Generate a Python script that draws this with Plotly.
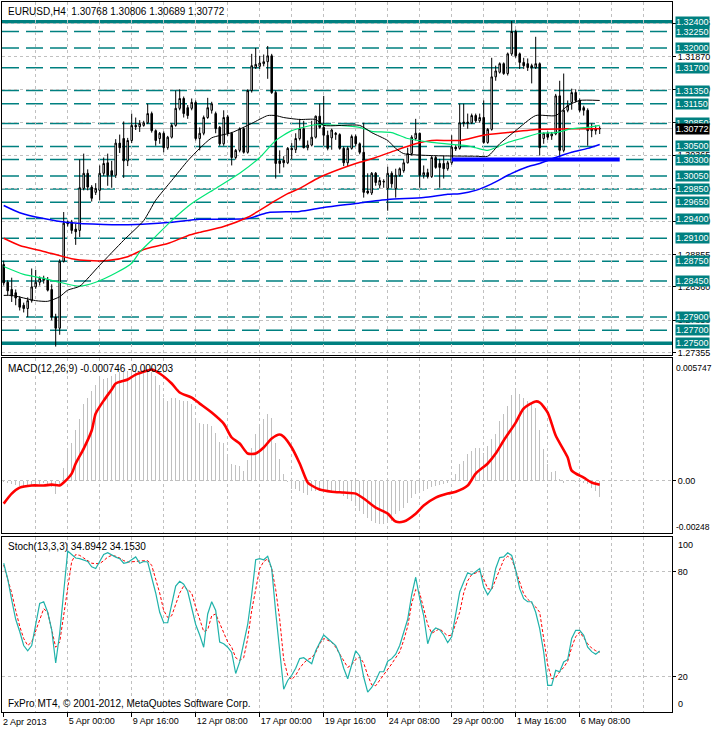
import plotly.graph_objects as go

# ---------------- data ----------------
TITLE = "EURUSD,H4  1.30768 1.30806 1.30689 1.30772"
MACD_LABEL = "MACD(12,26,9) -0.000746 -0.000203"
STOCH_LABEL = "Stoch(13,3,3) 34.8942 34.1530"
FOOTER = "FxPro MT4, © 2001-2012, MetaQuotes Software Corp."

OPEN = [1.2870, 1.2843, 1.2832, 1.2827, 1.2818, 1.2808, 1.2803, 1.2815, 1.2836, 1.2843,
        1.2846, 1.2847, 1.2832, 1.2790, 1.2773, 1.2875, 1.2935, 1.2935, 1.2924, 1.2922,
        1.2986, 1.3009, 1.2988, 1.2980, 1.2983, 1.3009, 1.3025, 1.3013, 1.3006, 1.3055,
        1.3062, 1.3028, 1.3059, 1.3082, 1.3080, 1.3082, 1.3086, 1.3100, 1.3074, 1.3062,
        1.3070, 1.3048, 1.3064, 1.3082, 1.3108, 1.3123, 1.3109, 1.3108, 1.3117, 1.3062,
        1.3070, 1.3094, 1.3105, 1.3100, 1.3079, 1.3054, 1.3095, 1.3070, 1.3033, 1.3044,
        1.3077, 1.3041, 1.3135, 1.3170, 1.3172, 1.3176, 1.3179, 1.3188, 1.3132, 1.3028,
        1.3029, 1.3025, 1.3047, 1.3045, 1.3062, 1.3077, 1.3048, 1.3052, 1.3064, 1.3096,
        1.3079, 1.3067, 1.3063, 1.3068, 1.3068, 1.3047, 1.3025, 1.3047, 1.3065, 1.3054,
        1.3041, 1.2982, 1.2979, 1.3009, 1.2991, 1.2997, 1.2986, 1.3009, 1.2986, 1.3006,
        1.3013, 1.3025, 1.3039, 1.3062, 1.3070, 1.3006, 1.3010, 1.3004, 1.3033, 1.3024,
        1.3024, 1.3016, 1.3025, 1.3049, 1.3047, 1.3085, 1.3085, 1.3086, 1.3097, 1.3089,
        1.3094, 1.3056, 1.3076, 1.3156, 1.3163, 1.3176, 1.3161, 1.3191, 1.3225, 1.3191,
        1.3178, 1.3176, 1.3173, 1.3170, 1.3176, 1.3062, 1.3070, 1.3066, 1.3069, 1.3127,
        1.3044, 1.3105, 1.3117, 1.3132, 1.3120, 1.3109, 1.3105, 1.3074, 1.3074, 1.30768]
HIGH = [1.2876, 1.2846, 1.2850, 1.2832, 1.2822, 1.2812, 1.2820, 1.2864, 1.2862, 1.2852,
        1.2853, 1.2851, 1.2840, 1.2795, 1.2878, 1.2950, 1.2937, 1.2938, 1.2932, 1.3030,
        1.3039, 1.3015, 1.2991, 1.2994, 1.3021, 1.3033, 1.3039, 1.3028, 1.3061, 1.3068,
        1.3088, 1.3063, 1.3100, 1.3094, 1.3090, 1.3089, 1.3115, 1.3103, 1.3076, 1.3072,
        1.3073, 1.3066, 1.3085, 1.3135, 1.3137, 1.3126, 1.3113, 1.3123, 1.3120, 1.3079,
        1.3097, 1.3124, 1.3118, 1.3103, 1.3081, 1.3105, 1.3098, 1.3072, 1.3046, 1.3079,
        1.3079, 1.3137, 1.3191, 1.3200, 1.3188, 1.3190, 1.3203, 1.3191, 1.3135, 1.3044,
        1.3035, 1.3049, 1.3055, 1.3070, 1.3092, 1.3089, 1.3059, 1.3089, 1.3097, 1.3115,
        1.3127, 1.3074, 1.3077, 1.3072, 1.3070, 1.3050, 1.3050, 1.3068, 1.3068, 1.3056,
        1.3086, 1.3009, 1.3011, 1.3011, 1.3003, 1.3000, 1.3019, 1.3012, 1.3016, 1.3018,
        1.3031, 1.3048, 1.3067, 1.3092, 1.3071, 1.3021, 1.3016, 1.3036, 1.3036, 1.3031,
        1.3036, 1.3028, 1.3067, 1.3052, 1.3115, 1.3115, 1.3100, 1.3100, 1.3100, 1.3100,
        1.3120, 1.3078, 1.3185, 1.3173, 1.3178, 1.3178, 1.3193, 1.3241, 1.3228, 1.3193,
        1.3185, 1.3184, 1.3176, 1.3217, 1.3178, 1.3071, 1.3073, 1.3072, 1.3130, 1.3150,
        1.3161, 1.3120, 1.3138, 1.3137, 1.3123, 1.3112, 1.3108, 1.3085, 1.3082, 1.30806]
LOW = [1.2838, 1.2823, 1.2813, 1.2808, 1.2800, 1.2797, 1.2790, 1.2812, 1.2833, 1.2838,
       1.2841, 1.2829, 1.2785, 1.2745, 1.2763, 1.2873, 1.2928, 1.2917, 1.2900, 1.2912,
       1.2983, 1.2983, 1.2966, 1.2976, 1.2968, 1.3005, 1.2990, 1.2987, 1.3002, 1.3040,
       1.3002, 1.3020, 1.3055, 1.3075, 1.3072, 1.3080, 1.3084, 1.3071, 1.3051, 1.3054,
       1.3041, 1.3045, 1.3062, 1.3080, 1.3105, 1.3094, 1.3092, 1.3105, 1.3059, 1.3044,
       1.3067, 1.3092, 1.3100, 1.3070, 1.3051, 1.3051, 1.3066, 1.3021, 1.3030, 1.3041,
       1.3039, 1.3039, 1.3132, 1.3168, 1.3168, 1.3172, 1.3153, 1.3130, 1.3001, 1.3009,
       1.3018, 1.3023, 1.3030, 1.3040, 1.3059, 1.3047, 1.3044, 1.3050, 1.3062, 1.3077,
       1.3051, 1.3044, 1.3045, 1.3060, 1.3045, 1.3020, 1.3020, 1.3045, 1.3050, 1.3038,
       1.2972, 1.2977, 1.2976, 1.2990, 1.2986, 1.2987, 1.2952, 1.2987, 1.2972, 1.3004,
       1.3010, 1.3024, 1.3036, 1.3059, 1.2987, 1.3001, 1.3001, 1.3002, 1.3016, 1.2987,
       1.3001, 1.3013, 1.3022, 1.3043, 1.3045, 1.3080, 1.3077, 1.3084, 1.3086, 1.3086,
       1.3054, 1.3054, 1.3074, 1.3150, 1.3161, 1.3159, 1.3158, 1.3188, 1.3185, 1.3168,
       1.3168, 1.3165, 1.3146, 1.3168, 1.3036, 1.3054, 1.3060, 1.3060, 1.3067, 1.3033,
       1.3041, 1.3102, 1.3106, 1.3117, 1.3102, 1.3097, 1.3051, 1.3064, 1.3068, 1.30689]
CLOSE = [1.2842, 1.2830, 1.2822, 1.2819, 1.2805, 1.2803, 1.2815, 1.2836, 1.2843, 1.2849,
         1.2849, 1.2831, 1.2790, 1.2773, 1.2875, 1.2933, 1.2932, 1.2922, 1.2920, 1.2987,
         1.3009, 1.2988, 1.2971, 1.2986, 1.3009, 1.3024, 1.3006, 1.3006, 1.3055, 1.3048,
         1.3028, 1.3059, 1.3082, 1.3080, 1.3085, 1.3086, 1.3100, 1.3074, 1.3059, 1.3070,
         1.3048, 1.3064, 1.3082, 1.3108, 1.3123, 1.3100, 1.3097, 1.3117, 1.3062, 1.3070,
         1.3094, 1.3109, 1.3115, 1.3077, 1.3054, 1.3094, 1.3070, 1.3033, 1.3044, 1.3077,
         1.3041, 1.3135, 1.3173, 1.3175, 1.3177, 1.3179, 1.3188, 1.3132, 1.3024, 1.3024,
         1.3025, 1.3047, 1.3045, 1.3062, 1.3077, 1.3048, 1.3052, 1.3064, 1.3096, 1.3079,
         1.3067, 1.3047, 1.3075, 1.3070, 1.3047, 1.3025, 1.3047, 1.3065, 1.3054, 1.3041,
         1.2980, 1.2979, 1.3009, 1.2995, 1.2998, 1.2996, 1.3009, 1.2993, 1.3006, 1.3016,
         1.3025, 1.3039, 1.3064, 1.3070, 1.3006, 1.3010, 1.3004, 1.3033, 1.3018, 1.3018,
         1.3016, 1.3025, 1.3049, 1.3046, 1.3086, 1.3087, 1.3087, 1.3097, 1.3089, 1.3094,
         1.3056, 1.3076, 1.3156, 1.3165, 1.3176, 1.3161, 1.3191, 1.3225, 1.3188, 1.3178,
         1.3173, 1.3170, 1.3170, 1.3176, 1.3048, 1.3070, 1.3064, 1.3069, 1.3127, 1.3044,
         1.3105, 1.3112, 1.3132, 1.3120, 1.3105, 1.3105, 1.3074, 1.3077, 1.3077, 1.30772]
BARS = list(range(len(OPEN)))

MA_BLACK_X = [0, 2, 8, 11, 14, 16, 19, 24, 30, 35, 38, 42, 46, 49, 52, 57, 62, 66, 68, 70,
              74, 78, 80, 89, 92, 96, 98, 100, 107, 118, 121, 124, 128, 133, 138, 141, 144, 149]
MA_BLACK = [1.2823, 1.2823, 1.2815, 1.2814, 1.2821, 1.2831, 1.2837, 1.2869, 1.2907, 1.2937,
            1.2968, 1.2998, 1.3028, 1.3047, 1.3063, 1.3071, 1.3085, 1.3097, 1.3097, 1.3094,
            1.3091, 1.3091, 1.3082, 1.3082, 1.3071, 1.3059, 1.3047, 1.3039, 1.3036, 1.3035,
            1.3035, 1.3054, 1.3074, 1.3097, 1.3097, 1.3112, 1.3120, 1.3120]
MA_GREEN_X = [0, 5, 10, 14, 19, 23, 28, 32, 34, 38, 42, 47, 53, 59, 64, 68, 72, 78, 84, 89,
              92, 97, 101, 107, 112, 116, 118, 121, 123, 126, 130, 134, 138, 142, 146, 149]
MA_GREEN = [1.2867, 1.2855, 1.2849, 1.2843, 1.2837, 1.2843, 1.2857, 1.2872, 1.2889, 1.2913,
            1.2937, 1.2963, 1.2986, 1.3009, 1.3033, 1.3059, 1.3074, 1.3083, 1.3082, 1.3079,
            1.3073, 1.3071, 1.3062, 1.3056, 1.3053, 1.3051, 1.3048, 1.3044, 1.3048, 1.3056,
            1.3063, 1.3070, 1.3071, 1.3077, 1.3079, 1.3082]
MA_RED_X = [0, 4, 10, 17, 21, 26, 31, 35, 41, 46, 49, 55, 61, 67, 71, 74, 79, 88, 93, 98,
            103, 107, 111, 114, 120, 126, 134, 142, 149]
MA_RED = [1.2910, 1.2899, 1.2890, 1.2879, 1.2876, 1.2876, 1.2882, 1.2893, 1.2902, 1.2914,
          1.2919, 1.2928, 1.2942, 1.2964, 1.2978, 1.2986, 1.3003, 1.3024, 1.3033, 1.3044,
          1.3054, 1.3059, 1.3059, 1.3059, 1.3067, 1.3071, 1.3076, 1.3077, 1.3077]
MA_BLUE_X = [0, 4, 10, 16, 25, 33, 41, 49, 55, 61, 66, 74, 80, 88, 96, 105, 111, 114, 118, 122,
             127, 131, 134, 138, 142, 146, 149]
MA_BLUE = [1.2960, 1.2949, 1.2940, 1.2934, 1.2931, 1.2931, 1.2934, 1.2939, 1.2939, 1.2940,
           1.2949, 1.2951, 1.2957, 1.2963, 1.2969, 1.2972, 1.2977, 1.2978, 1.2983, 1.2993,
           1.3009, 1.3019, 1.3024, 1.3033, 1.3041, 1.3047, 1.3053]

LEVELS = [1.3225, 1.3200, 1.3170, 1.3135, 1.3115, 1.3085, 1.3050, 1.3030, 1.3005, 1.2985,
          1.2965, 1.2940, 1.2910, 1.2875, 1.2845, 1.2790, 1.2770]
THICK_LEVELS = [1.3240, 1.2750]
TREND_LEVEL = 1.3030
TREND_FROM_BAR = 112
TREND_TO_BAR = 154
BID = 1.30772
GRID_PRICES = [1.27355, 1.27850, 1.28360, 1.28855, 1.29360, 1.29860, 1.30365, 1.30865,
               1.31370, 1.31870, 1.32375]

MACD_HIST = [-0.00005, -0.00009, -0.00014, -0.00019, -0.00023, -0.00028, -0.00028, -0.00023, -0.00019, -0.00014,
             -0.00009, -0.00014, -0.00028, -0.00061, -0.00023, 0.00061, 0.00141, 0.00178, 0.00235, 0.00291,
             0.00361, 0.00389, 0.00422, 0.00446, 0.00474, 0.00478, 0.00483, 0.00492, 0.00502, 0.00507,
             0.00507, 0.00516, 0.00516, 0.00521, 0.00516, 0.00507, 0.00521, 0.00511, 0.00488, 0.00446,
             0.00385, 0.00375, 0.00385, 0.00385, 0.00380, 0.00375, 0.00371, 0.00361, 0.00291, 0.00272,
             0.00267, 0.00267, 0.00258, 0.00225, 0.00183, 0.00174, 0.00127, 0.00080, 0.00075, 0.00070,
             0.00047, 0.00098, 0.00155, 0.00220, 0.00258, 0.00291, 0.00314, 0.00295, 0.00174, 0.00103,
             0.00033, -0.00005, -0.00038, -0.00038, -0.00047, -0.00056, -0.00066, -0.00047, -0.00047, -0.00047,
             -0.00047, -0.00047, -0.00047, -0.00052, -0.00056, -0.00070, -0.00084, -0.00094, -0.00117, -0.00141,
             -0.00155, -0.00174, -0.00188, -0.00197, -0.00202, -0.00202, -0.00197, -0.00188, -0.00155, -0.00141,
             -0.00127, -0.00103, -0.00080, -0.00061, -0.00056, -0.00047, -0.00038, -0.00028, -0.00023, -0.00019,
             -0.00014, -0.00009, 0.00009, 0.00033, 0.00080, 0.00094, 0.00127, 0.00141, 0.00155, 0.00155,
             0.00131, 0.00164, 0.00197, 0.00220, 0.00281, 0.00314, 0.00352, 0.00399, 0.00422, 0.00408,
             0.00385, 0.00375, 0.00361, 0.00338, 0.00235, 0.00150, 0.00080, 0.00038, 0.00047, 0.00009,
             -0.00009, 0.00005, 0.00005, -0.00005, -0.00005, -0.00009, -0.00014, -0.00033, -0.00047, -0.00075]
MACD_SIG_X = [0, 2, 4, 7, 10, 12, 14, 15, 17, 18, 20, 22, 23, 25, 27, 28, 31, 33, 36, 37,
              39, 42, 44, 47, 49, 52, 55, 57, 59, 61, 63, 65, 67, 69, 70, 72, 74, 76, 77, 79,
              82, 85, 88, 90, 93, 96, 98, 100, 103, 105, 108, 111, 113, 116, 118, 121, 123, 125, 128, 130,
              133, 134, 136, 138, 141, 142, 145, 147, 149]
MACD_SIG = [-0.00108, -0.00061, -0.00033, -0.00023, -0.00023, -0.00019, -0.00023, -0.00009, 0.00033, 0.00080,
            0.00150, 0.00235, 0.00314, 0.00375, 0.00427, 0.00455, 0.00474, 0.00497, 0.00516, 0.00521,
            0.00502, 0.00455, 0.00413, 0.00389, 0.00361, 0.00319, 0.00267, 0.00202, 0.00174, 0.00127,
            0.00127, 0.00155, 0.00197, 0.00216, 0.00206, 0.00155, 0.00080, -0.00009, -0.00023, -0.00042,
            -0.00052, -0.00056, -0.00061, -0.00084, -0.00127, -0.00155, -0.00192, -0.00192, -0.00155, -0.00117,
            -0.00080, -0.00061, -0.00052, -0.00023, 0.00033, 0.00080, 0.00127, 0.00188, 0.00272, 0.00338,
            0.00371, 0.00366, 0.00319, 0.00211, 0.00108, 0.00047, 0.00014, -0.00009, -0.00019]
MACD_TOP = 0.005747
MACD_BOTTOM = -0.00248

STOCH_MAIN = [85, 76, 64, 53, 46, 38, 35, 38, 50, 62,
              63, 57, 47, 28, 45, 70, 92, 90, 88, 87.6,
              87, 86, 83, 82, 86, 90, 91, 89.5, 88.5, 87.6,
              85, 85.5, 87, 88.6, 85, 86, 85.7, 77, 68, 57,
              51, 51, 62, 72, 74.7, 73, 69, 60, 50, 44,
              37, 56, 63, 58, 40, 39, 37, 34, 22, 28.6,
              40, 50, 67, 87, 87.6, 87, 89, 82, 57, 35,
              13, 18, 21, 25, 30.5, 31, 29.5, 27.6, 35, 40,
              44, 42, 40, 38, 33, 25, 19, 27, 35, 32,
              20, 11.4, 14, 18, 23, 23, 29, 30.5, 33, 38,
              45, 53, 67, 77, 65, 55, 39, 45.7, 48, 47,
              44, 39.6, 43, 55, 68.6, 74.3, 79.6, 78.5, 80, 82,
              71.4, 67, 70.5, 82, 88.2, 88.6, 91, 89.5, 81, 70.5,
              64.8, 63, 63, 57, 47.6, 34.3, 15.2, 15.2, 23.8, 23,
              28.6, 30, 42, 46.7, 46.7, 43.8, 37, 34.5, 33, 34.89]
STOCH_SIG = [84, 76, 68, 58, 49, 42, 38, 40, 46, 53,
             59, 57, 47, 37, 40, 55, 72, 86, 90, 89.5,
             88, 86.5, 85, 84.8, 84.8, 86.5, 88.5, 89.5, 89, 88,
             86.5, 85.7, 85.7, 86, 86.3, 86.5, 86.5, 83.8, 76, 68,
             58, 54, 55, 61, 68, 72, 70, 68, 60, 53,
             46, 47, 55, 56, 51, 45, 40, 37, 31, 29.5,
             31, 42, 58, 70, 82, 86, 87.5, 82, 70, 53,
             30, 21, 18.5, 21, 25, 28, 30, 31, 34, 39,
             42, 41, 40, 37, 33, 29, 25.5, 27, 30, 31.4,
             28, 21, 15.5, 15, 18, 21, 24, 27.5, 31, 34.3,
             41, 49, 62, 70, 68, 59, 50, 45, 46.5, 47.6,
             45.5, 43.5, 44, 50, 57, 68, 75, 78.5, 79.5, 80.4,
             76, 70.5, 70, 76, 82, 87, 89, 87.5, 81, 74.3,
             67.5, 64.5, 62.5, 60, 57, 42, 27, 19, 19.5, 23,
             25.5, 29, 37, 43, 45.7, 42.5, 39, 36.5, 35, 34.15]

X_TICK_BARS = [0, 16, 32, 48, 64, 80, 96, 112, 128, 144]
X_TICK_LABELS = ["2 Apr 2013", "5 Apr 00:00", "9 Apr 16:00", "12 Apr 08:00", "17 Apr 00:00",
                 "19 Apr 16:00", "24 Apr 08:00", "29 Apr 00:00", "1 May 16:00", "6 May 08:00"]
X_GRID_BARS = list(range(8, 161, 8))

# ---------------- styling ----------------
TEAL = "#008080"
GRID = "#c0c0c0"
FONT = "Liberation Sans"
LBL = 9

fig = go.Figure()

fig.add_trace(go.Candlestick(
    x=BARS, open=OPEN, high=HIGH, low=LOW, close=CLOSE,
    increasing=dict(line=dict(color="black", width=1), fillcolor="white"),
    decreasing=dict(line=dict(color="black", width=1), fillcolor="black"),
    whiskerwidth=0, xaxis="x", yaxis="y", showlegend=False))

for xs, ys, col, w in [(MA_BLUE_X, MA_BLUE, "#0000ff", 1.5),
                       (MA_RED_X, MA_RED, "#ff0000", 1.5),
                       (MA_GREEN_X, MA_GREEN, "#00e676", 1.2),
                       (MA_BLACK_X, MA_BLACK, "#000000", 1)]:
    fig.add_trace(go.Scatter(x=xs, y=ys, mode="lines",
                             line=dict(color=col, width=w, shape="spline", smoothing=0.6),
                             xaxis="x", yaxis="y", showlegend=False))

fig.add_trace(go.Bar(x=BARS, y=MACD_HIST, marker=dict(color="#c0c0c0", line=dict(width=0)),
                     width=0.28, xaxis="x2", yaxis="y2", showlegend=False))
fig.add_trace(go.Scatter(x=MACD_SIG_X, y=MACD_SIG, mode="lines",
                         line=dict(color="#ff0000", width=2.6, shape="spline", smoothing=0.7),
                         xaxis="x2", yaxis="y2", showlegend=False))

fig.add_trace(go.Scatter(x=BARS, y=STOCH_SIG, mode="lines",
                         line=dict(color="#ff0000", width=1, dash="3px,2px"),
                         xaxis="x3", yaxis="y3", showlegend=False))
fig.add_trace(go.Scatter(x=BARS, y=STOCH_MAIN, mode="lines",
                         line=dict(color="#20b2aa", width=1.2),
                         xaxis="x3", yaxis="y3", showlegend=False))

shapes = []
for lv in LEVELS:
    shapes.append(dict(type="line", xref="paper", x0=0, x1=1, yref="y", y0=lv, y1=lv,
                       line=dict(color=TEAL, width=1.5, dash="17px,7px"), layer="between"))
for lv in THICK_LEVELS:
    shapes.append(dict(type="line", xref="paper", x0=0, x1=1, yref="y", y0=lv, y1=lv,
                       line=dict(color=TEAL, width=3.5), layer="between"))
shapes.append(dict(type="line", xref="paper", x0=0, x1=1, yref="y", y0=BID, y1=BID,
                   line=dict(color="#c0c0c0", width=1), layer="between"))
shapes.append(dict(type="line", xref="x", x0=TREND_FROM_BAR, x1=TREND_TO_BAR, yref="y",
                   y0=TREND_LEVEL, y1=TREND_LEVEL, line=dict(color="#0000ff", width=4), layer="above"))

ann = []
for lv in THICK_LEVELS[:1] + LEVELS + THICK_LEVELS[1:]:
    ann.append(dict(xref="paper", x=1, xanchor="left", xshift=3, yref="y", y=lv, yanchor="middle",
                    text=f"{lv:.5f}", showarrow=False, bgcolor=TEAL, borderpad=0,
                    font=dict(family=FONT, size=LBL, color="white")))
ann.append(dict(xref="paper", x=1, xanchor="left", xshift=3, yref="y", y=BID - 0.00012, yanchor="middle",
                text=f"{BID:.5f}", showarrow=False, bgcolor="black", borderpad=0,
                font=dict(family=FONT, size=LBL, color="white")))
ann.append(dict(xref="paper", x=1, xanchor="left", xshift=2, yref="y2", y=MACD_TOP, yanchor="top",
                yshift=-3, text="0.005747", showarrow=False, font=dict(family=FONT, size=8.5, color="black")))
ann.append(dict(xref="paper", x=1, xanchor="left", xshift=2, yref="y2", y=MACD_BOTTOM, yanchor="bottom",
                yshift=0, text="-0.00248", showarrow=False, font=dict(family=FONT, size=8.5, color="black")))
ann.append(dict(xref="paper", x=1, xanchor="left", xshift=4, yref="y3", y=100, yanchor="top",
                yshift=-1, text="100", showarrow=False, font=dict(family=FONT, size=LBL, color="black")))
ann.append(dict(xref="paper", x=1, xanchor="left", xshift=4, yref="y3", y=0, yanchor="bottom",
                yshift=1, text="0", showarrow=False, font=dict(family=FONT, size=LBL, color="black")))
ann.append(dict(xref="x3", x=0, xanchor="left", xshift=-3, yref="paper", y=0, yanchor="top", yshift=-3,
                text=X_TICK_LABELS[0], showarrow=False, font=dict(family=FONT, size=LBL, color="black")))
for txt, yy in [(TITLE, 0.9873), (MACD_LABEL, 0.4831), (STOCH_LABEL, 0.2324), (FOOTER, 0.0113)]:
    ann.append(dict(xref="paper", x=0, xanchor="left", xshift=4, yref="paper", y=yy, yanchor="middle",
                    text=txt, showarrow=False, font=dict(family=FONT, size=10, color="black")))

XR = [-0.425, 167.075]
minor_grid = dict(tickvals=X_GRID_BARS, showgrid=True, gridcolor=GRID, griddash="3px,3px",
                  gridwidth=1, ticks="")
base_x = dict(range=XR, showline=True, mirror=True, linecolor="black", linewidth=1,
              zeroline=False, showgrid=False, minor=minor_grid, fixedrange=True)
base_y = dict(side="right", showline=True, mirror=True, linecolor="black", linewidth=1,
              zeroline=False, showgrid=True, gridcolor=GRID, griddash="3px,3px", gridwidth=1,
              ticks="outside", ticklen=3, tickcolor="black", automargin=False,
              tickfont=dict(family=FONT, size=LBL, color="black"), fixedrange=True)

fig.update_layout(
    width=713, height=729,
    margin=dict(l=2, r=41, t=2, b=17, autoexpand=False),
    paper_bgcolor="white", plot_bgcolor="white",
    font=dict(family=FONT, size=10, color="black"),
    showlegend=False, hovermode=False, boxgap=0.45, bargap=0,
    xaxis=dict(**base_x, anchor="y", showticklabels=False, rangeslider=dict(visible=False)),
    xaxis2=dict(**base_x, anchor="y2", showticklabels=False),
    xaxis3=dict(**base_x, anchor="y3", tickvals=X_TICK_BARS, automargin=False,
                ticktext=[""] + X_TICK_LABELS[1:], ticks="outside", ticklen=4, tickcolor="black",
                ticklabelposition="outside right",
                tickfont=dict(family=FONT, size=LBL, color="black")),
    yaxis=dict(**base_y, anchor="x", domain=[0.50282, 1.0], range=[1.27322, 1.32700],
               tickvals=GRID_PRICES, ticktext=[f"{v:.5f}" for v in GRID_PRICES]),
    yaxis2=dict(**base_y, anchor="x2", domain=[0.25141, 0.49859], range=[MACD_BOTTOM, MACD_TOP],
                tickvals=[0], ticktext=["0.00"]),
    yaxis3=dict(**base_y, anchor="x3", domain=[0.0, 0.24648], range=[0, 100],
                tickvals=[20, 80], ticktext=["20", "80"]),
    shapes=shapes, annotations=ann,
)

fig.write_html("out.html", config={"displayModeBar": False, "staticPlot": True},
               post_script="document.body.style.margin='0';document.body.style.padding='0';"
                           "document.documentElement.style.overflow='hidden';")
